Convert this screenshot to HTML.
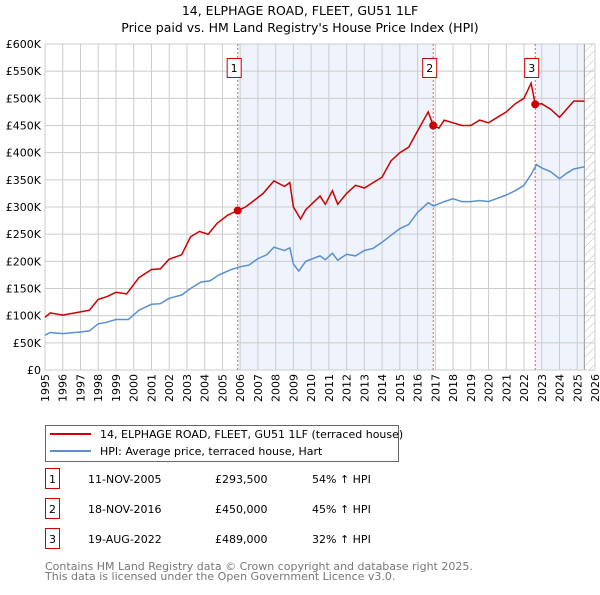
<!DOCTYPE html>
<html><head><meta charset="utf-8"><style>
body{margin:0;background:#fff;font-family:"Liberation Sans","DejaVu Sans",sans-serif;}
svg text{font-family:"DejaVu Sans","Liberation Sans",sans-serif;}
</style></head><body>
<svg id="c" width="600" height="590" xmlns="http://www.w3.org/2000/svg">
<defs><pattern id="hatch" width="6" height="6" patternUnits="userSpaceOnUse" patternTransform="rotate(45)"><line x1="0" y1="0" x2="0" y2="6" stroke="#bbb" stroke-width="1"/></pattern></defs>
<text x="300" y="15" text-anchor="middle" font-size="12.5" fill="#000">14, ELPHAGE ROAD, FLEET, GU51 1LF</text>
<text x="300" y="32" text-anchor="middle" font-size="12.5" fill="#000">Price paid vs. HM Land Registry's House Price Index (HPI)</text>
<g id="plot"></g>
<g>
<rect x="45.5" y="425.5" width="353" height="36" fill="#fff" stroke="#666"/>
<line x1="50" y1="434" x2="91" y2="434" stroke="#cc0000" stroke-width="2"/>
<text x="100" y="438" font-size="11">14, ELPHAGE ROAD, FLEET, GU51 1LF (terraced house)</text>
<line x1="50" y1="451" x2="91" y2="451" stroke="#5b8fd0" stroke-width="2"/>
<text x="100" y="455" font-size="11">HPI: Average price, terraced house, Hart</text>
</g>
<g id="table" font-size="11"></g>
<text x="45" y="570" font-size="11" fill="#777">Contains HM Land Registry data © Crown copyright and database right 2025.</text>
<text x="45" y="580" font-size="11" fill="#777">This data is licensed under the Open Government Licence v3.0.</text>
</svg>
<script>
const hpiYears=[1995,1995.3,1996,1997,1997.5,1998,1998.5,1999,1999.7,2000.3,2001,2001.5,2002,2002.7,2003.2,2003.8,2004.3,2004.8,2005.5,2006,2006.5,2007,2007.5,2007.9,2008.5,2008.8,2009.0,2009.3,2009.7,2010.5,2010.8,2011.2,2011.5,2012,2012.5,2013,2013.5,2014,2014.5,2015,2015.5,2016,2016.6,2016.9,2017.5,2018,2018.5,2019,2019.5,2020,2020.5,2021,2021.5,2022,2022.4,2022.7,2023,2023.5,2024,2024.4,2024.8,2025.4];
const hpiValues=[64,69,67,70,72,85,88,93,93,110,121,122,132,138,150,162,164,175,185,190,193,205,212,226,220,225,195,182,200,210,203,215,202,213,210,220,224,235,248,260,268,290,308,302,310,315,310,310,312,310,316,322,330,340,360,378,372,365,352,362,370,374];
const priceYears=[1995,1995.3,1996,1997,1997.5,1998,1998.5,1999,1999.6,2000.3,2001,2001.5,2002,2002.7,2003.2,2003.7,2004.2,2004.7,2005.3,2005.86,2006.3,2006.7,2007.3,2007.9,2008.5,2008.8,2009.0,2009.4,2009.7,2010.5,2010.8,2011.2,2011.5,2012,2012.5,2013,2013.5,2014,2014.5,2015,2015.5,2016,2016.6,2016.88,2017.2,2017.5,2018,2018.5,2019,2019.5,2020,2020.5,2021,2021.5,2022,2022.4,2022.63,2023,2023.5,2024,2024.4,2024.8,2025.4];
const priceValues=[97,105,101,107,110,130,135,143,140,170,185,186,204,212,245,255,250,270,285,293.5,300,310,325,348,338,345,300,278,295,320,305,330,305,325,340,335,345,355,385,400,410,440,475,450,445,460,455,450,450,460,455,465,475,490,500,528,489,490,480,465,480,495,495];
const saleLabels=["1","2","3"];
const saleYears=[2005.86,2016.88,2022.63];
const saleValues=[293.5,450,489];
const saleDates=["11-NOV-2005","18-NOV-2016","19-AUG-2022"];
const salePrices=["£293,500","£450,000","£489,000"];
const saleHpi=["54% ↑ HPI","45% ↑ HPI","32% ↑ HPI"];
const yTicks=[0,50,100,150,200,250,300,350,400,450,500,550,600];
const yTickLabels=["£0","£50K","£100K","£150K","£200K","£250K","£300K","£350K","£400K","£450K","£500K","£550K","£600K"];
const xTicks=[1995,1996,1997,1998,1999,2000,2001,2002,2003,2004,2005,2006,2007,2008,2009,2010,2011,2012,2013,2014,2015,2016,2017,2018,2019,2020,2021,2022,2023,2024,2025,2026];

const NS="http://www.w3.org/2000/svg";
const L=45,R=595,T=44,B=370;
const X=y=>L+(y-1995)*(R-L)/31;
const Y=v=>B-v*(B-T)/600;
const g=document.getElementById('plot');
function mk(tag,attrs,parent){const e=document.createElementNS(NS,tag);for(const k in attrs)e.setAttribute(k,attrs[k]);(parent||g).appendChild(e);return e;}
let e;
e=mk('rect',{x:L,y:T,width:R-L,height:B-T,fill:'#fff'});


e=mk('rect',{x:X(saleYears[0]),y:T,width:X(saleYears[1])-X(saleYears[0]),height:B-T,fill:'#eef3fc'});


e=mk('rect',{x:X(saleYears[2]),y:T,width:X(2025.4)-X(saleYears[2]),height:B-T,fill:'#eef3fc'});


e=mk('rect',{x:X(2025.4),y:T,width:R-X(2025.4),height:B-T,fill:'url(#hatch)'});


yTicks.forEach((v,i)=>{
  e=mk('line',{x1:L,x2:R,y1:Y(v),y2:Y(v),stroke:'#ccc','stroke-width':1});
  
  
  e=mk('text',{x:L-4,y:Y(v)+4,'text-anchor':'end','font-size':11,fill:'#000'});
  e.textContent=yTickLabels[i];
  
  
});
xTicks.forEach(v=>{
  e=mk('line',{x1:X(v),x2:X(v),y1:T,y2:B,stroke:'#ccc','stroke-width':1});
  
  
  e=mk('text',{x:0,y:0,'text-anchor':'end','font-size':11,transform:`translate(${X(v)+4},${B+4}) rotate(-90)`});
  e.textContent=v;
  
  
});
e=mk('line',{x1:X(2025.4),x2:X(2025.4),y1:T,y2:B,stroke:'#999','stroke-width':1});


saleYears.forEach((s,i)=>{
  e=mk('line',{x1:X(s),x2:X(s),y1:T,y2:B,stroke:'#e06060','stroke-width':1,'stroke-dasharray':'2,2'});
  
  
});
const path=(xs,vs)=>xs.map((x,i)=>(i?'L':'M')+X(x).toFixed(1)+','+Y(vs[i]).toFixed(1)).join('');
e=mk('path',{d:path(hpiYears,hpiValues),fill:'none',stroke:'#5b8fd0','stroke-width':1.5});


e=mk('path',{d:path(priceYears,priceValues),fill:'none',stroke:'#cc0000','stroke-width':1.5});


saleYears.forEach((s,i)=>{
  e=mk('circle',{cx:X(s),cy:Y(saleValues[i]),r:4,fill:'#cc0000'});
  
  
  e=mk('rect',{x:X(s)-10.5,y:58.5,width:14,height:19,fill:'#fff',stroke:'#cc0000'});
  
  
  e=mk('text',{x:X(s)-3.5,y:72,'text-anchor':'middle','font-size':11});
  e.textContent=saleLabels[i];
  
  
});
const tb=document.getElementById('table');
saleLabels.forEach((l,i)=>{
  const yy=483+i*30;
  e=mk('rect',{x:45.5,y:yy-14.5,width:14,height:20,fill:'#fff',stroke:'#cc0000'},tb);
  
  
  e=mk('text',{x:52.5,y:yy,'text-anchor':'middle'},tb);e.textContent=l;
  
  
  e=mk('text',{x:88,y:yy},tb);e.textContent=saleDates[i];
  
  
  e=mk('text',{x:215,y:yy},tb);e.textContent=salePrices[i];
  
  
  e=mk('text',{x:312,y:yy},tb);e.textContent=saleHpi[i];
  
  
});
</script>
</body></html>
